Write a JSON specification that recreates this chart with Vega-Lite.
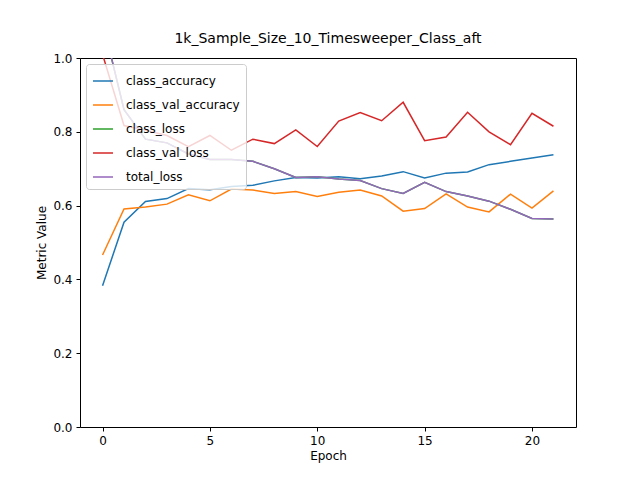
{
  "$schema": "https://vega.github.io/schema/vega-lite/v6.json",
  "width": 496,
  "height": 369,
  "autosize": {"type": "none"},
  "padding": {"left": 80, "top": 58, "right": 64, "bottom": 53},
  "background": "white",
  "title": {"text": "1k_Sample_Size_10_Timesweeper_Class_aft", "fontSize": 14, "font": "DejaVu Sans", "fontWeight": "normal", "offset": 6},
  "config": {
    "view": {"stroke": "black", "strokeWidth": 1},
    "axis": {"grid": false, "domain": false, "tickColor": "black", "labelColor": "black", "labelFont": "DejaVu Sans", "labelFontSize": 12, "titleFont": "DejaVu Sans", "titleFontSize": 12, "titleFontWeight": "normal", "tickSize": 4, "labelPadding": 4}
  },
  "data": {"values": [
    {"epoch":0,"metric":"class_accuracy","value":0.383},{"epoch":1,"metric":"class_accuracy","value":0.555},{"epoch":2,"metric":"class_accuracy","value":0.611},{"epoch":3,"metric":"class_accuracy","value":0.619},{"epoch":4,"metric":"class_accuracy","value":0.646},{"epoch":5,"metric":"class_accuracy","value":0.643},{"epoch":6,"metric":"class_accuracy","value":0.652},{"epoch":7,"metric":"class_accuracy","value":0.655},{"epoch":8,"metric":"class_accuracy","value":0.667},{"epoch":9,"metric":"class_accuracy","value":0.676},{"epoch":10,"metric":"class_accuracy","value":0.675},{"epoch":11,"metric":"class_accuracy","value":0.678},{"epoch":12,"metric":"class_accuracy","value":0.673},{"epoch":13,"metric":"class_accuracy","value":0.68},{"epoch":14,"metric":"class_accuracy","value":0.692},{"epoch":15,"metric":"class_accuracy","value":0.675},{"epoch":16,"metric":"class_accuracy","value":0.688},{"epoch":17,"metric":"class_accuracy","value":0.691},{"epoch":18,"metric":"class_accuracy","value":0.711},{"epoch":19,"metric":"class_accuracy","value":0.72},{"epoch":20,"metric":"class_accuracy","value":0.729},{"epoch":21,"metric":"class_accuracy","value":0.738},
    {"epoch":0,"metric":"class_val_accuracy","value":0.466},{"epoch":1,"metric":"class_val_accuracy","value":0.591},{"epoch":2,"metric":"class_val_accuracy","value":0.596},{"epoch":3,"metric":"class_val_accuracy","value":0.604},{"epoch":4,"metric":"class_val_accuracy","value":0.629},{"epoch":5,"metric":"class_val_accuracy","value":0.613},{"epoch":6,"metric":"class_val_accuracy","value":0.645},{"epoch":7,"metric":"class_val_accuracy","value":0.642},{"epoch":8,"metric":"class_val_accuracy","value":0.633},{"epoch":9,"metric":"class_val_accuracy","value":0.638},{"epoch":10,"metric":"class_val_accuracy","value":0.625},{"epoch":11,"metric":"class_val_accuracy","value":0.636},{"epoch":12,"metric":"class_val_accuracy","value":0.642},{"epoch":13,"metric":"class_val_accuracy","value":0.626},{"epoch":14,"metric":"class_val_accuracy","value":0.585},{"epoch":15,"metric":"class_val_accuracy","value":0.592},{"epoch":16,"metric":"class_val_accuracy","value":0.632},{"epoch":17,"metric":"class_val_accuracy","value":0.596},{"epoch":18,"metric":"class_val_accuracy","value":0.583},{"epoch":19,"metric":"class_val_accuracy","value":0.631},{"epoch":20,"metric":"class_val_accuracy","value":0.593},{"epoch":21,"metric":"class_val_accuracy","value":0.64},
    {"epoch":0,"metric":"class_loss","value":1.1},{"epoch":1,"metric":"class_loss","value":0.86},{"epoch":2,"metric":"class_loss","value":0.78},{"epoch":3,"metric":"class_loss","value":0.77},{"epoch":4,"metric":"class_loss","value":0.74},{"epoch":5,"metric":"class_loss","value":0.725},{"epoch":6,"metric":"class_loss","value":0.725},{"epoch":7,"metric":"class_loss","value":0.72},{"epoch":8,"metric":"class_loss","value":0.7},{"epoch":9,"metric":"class_loss","value":0.676},{"epoch":10,"metric":"class_loss","value":0.678},{"epoch":11,"metric":"class_loss","value":0.672},{"epoch":12,"metric":"class_loss","value":0.668},{"epoch":13,"metric":"class_loss","value":0.646},{"epoch":14,"metric":"class_loss","value":0.633},{"epoch":15,"metric":"class_loss","value":0.663},{"epoch":16,"metric":"class_loss","value":0.638},{"epoch":17,"metric":"class_loss","value":0.626},{"epoch":18,"metric":"class_loss","value":0.612},{"epoch":19,"metric":"class_loss","value":0.59},{"epoch":20,"metric":"class_loss","value":0.565},{"epoch":21,"metric":"class_loss","value":0.564},
    {"epoch":0,"metric":"class_val_loss","value":1.01},{"epoch":1,"metric":"class_val_loss","value":0.817},{"epoch":2,"metric":"class_val_loss","value":0.804},{"epoch":3,"metric":"class_val_loss","value":0.79},{"epoch":4,"metric":"class_val_loss","value":0.76},{"epoch":5,"metric":"class_val_loss","value":0.79},{"epoch":6,"metric":"class_val_loss","value":0.75},{"epoch":7,"metric":"class_val_loss","value":0.78},{"epoch":8,"metric":"class_val_loss","value":0.768},{"epoch":9,"metric":"class_val_loss","value":0.805},{"epoch":10,"metric":"class_val_loss","value":0.76},{"epoch":11,"metric":"class_val_loss","value":0.829},{"epoch":12,"metric":"class_val_loss","value":0.852},{"epoch":13,"metric":"class_val_loss","value":0.83},{"epoch":14,"metric":"class_val_loss","value":0.88},{"epoch":15,"metric":"class_val_loss","value":0.776},{"epoch":16,"metric":"class_val_loss","value":0.786},{"epoch":17,"metric":"class_val_loss","value":0.853},{"epoch":18,"metric":"class_val_loss","value":0.8},{"epoch":19,"metric":"class_val_loss","value":0.765},{"epoch":20,"metric":"class_val_loss","value":0.85},{"epoch":21,"metric":"class_val_loss","value":0.815},
    {"epoch":0,"metric":"total_loss","value":1.1},{"epoch":1,"metric":"total_loss","value":0.86},{"epoch":2,"metric":"total_loss","value":0.78},{"epoch":3,"metric":"total_loss","value":0.77},{"epoch":4,"metric":"total_loss","value":0.74},{"epoch":5,"metric":"total_loss","value":0.725},{"epoch":6,"metric":"total_loss","value":0.725},{"epoch":7,"metric":"total_loss","value":0.72},{"epoch":8,"metric":"total_loss","value":0.7},{"epoch":9,"metric":"total_loss","value":0.676},{"epoch":10,"metric":"total_loss","value":0.678},{"epoch":11,"metric":"total_loss","value":0.672},{"epoch":12,"metric":"total_loss","value":0.668},{"epoch":13,"metric":"total_loss","value":0.646},{"epoch":14,"metric":"total_loss","value":0.633},{"epoch":15,"metric":"total_loss","value":0.663},{"epoch":16,"metric":"total_loss","value":0.638},{"epoch":17,"metric":"total_loss","value":0.626},{"epoch":18,"metric":"total_loss","value":0.612},{"epoch":19,"metric":"total_loss","value":0.59},{"epoch":20,"metric":"total_loss","value":0.565},{"epoch":21,"metric":"total_loss","value":0.564}
  ]},
  "mark": {"type": "line", "clip": true, "strokeWidth": 1.5},
  "encoding": {
    "x": {"field": "epoch", "type": "quantitative", "title": "Epoch", "scale": {"domain": [-1.05, 22.05], "nice": false, "zero": false}, "axis": {"values": [0, 5, 10, 15, 20], "labelFlush": false}},
    "y": {"field": "value", "type": "quantitative", "title": "Metric Value", "scale": {"domain": [0, 1], "nice": false}, "axis": {"values": [0, 0.2, 0.4, 0.6, 0.8, 1.0], "format": ".1f"}},
    "color": {"field": "metric", "type": "nominal", "scale": {"domain": ["class_accuracy", "class_val_accuracy", "class_loss", "class_val_loss", "total_loss"], "range": ["#1f77b4", "#ff7f0e", "#2ca02c", "#d62728", "#9467bd"]},
      "legend": {"title": null, "orient": "none", "legendX": 6, "legendY": 6, "fillColor": "rgba(255,255,255,0.8)", "strokeColor": "#cccccc", "padding": 6, "cornerRadius": 3, "symbolType": "stroke", "symbolSize": 400, "symbolStrokeWidth": 1.5, "labelFontSize": 12, "labelFont": "DejaVu Sans", "rowPadding": 7, "labelOffset": 12}},
    "order": {"field": "metric"}
  }
}
